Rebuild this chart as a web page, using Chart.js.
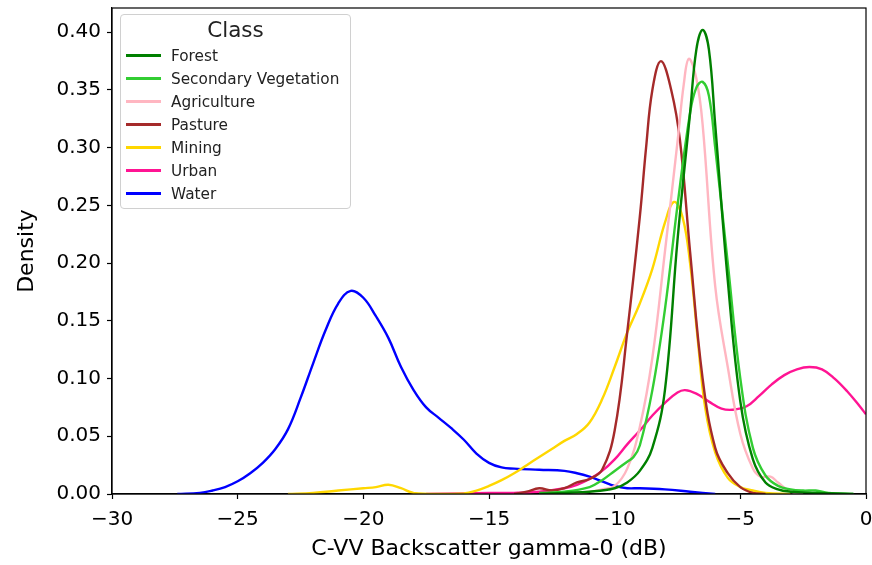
<!DOCTYPE html>
<html>
<head>
<meta charset="utf-8">
<script src="https://cdn.jsdelivr.net/npm/chart.js@4.4.0/dist/chart.umd.min.js"></script>
<style>
  html, body { margin: 0; padding: 0; background: #fff; }
  #wrap { position: relative; width: 872px; height: 565px; }
  #legend {
    position: absolute; left: 120px; top: 14px; width: 229px; height: 193px;
    border: 1px solid #d0d0d0; border-radius: 4px; background: rgba(255,255,255,0.85);
    font-family: "DejaVu Sans", sans-serif; color: #222;
  }
  #legend .title { position: absolute; left: 0; right: 0; top: 2px; text-align: center; font-size: 21.5px; }
  #legend .row { position: absolute; left: 5px; height: 20px; line-height: 20px; font-size: 15.3px; white-space: nowrap; }
  #legend .row span.sw { position: absolute; left: 0; top: 8px; width: 35px; height: 3px; }
  #legend .row span.lb { position: absolute; left: 45px; top: 0; }
</style>
</head>
<body>
<div id="wrap">
  <canvas id="c" width="872" height="565"></canvas>
  <div id="legend"></div>
</div>
<script>
const classes = ["Forest", "Secondary Vegetation", "Agriculture", "Pasture", "Mining", "Urban", "Water"];
const colors = ["#008000", "#32CD32", "#FFB6C1", "#A52A2A", "#FFD700", "#FF1493", "#0000FF"];

// x in dB, y = density
const forestX = [-13, -12, -11, -10, -9.5, -9, -8.5, -8, -7.5, -7, -6.75, -6.5, -6.25, -6, -5.5, -5, -4.5, -4, -3.5, -3, -2, -0.5];
const forestY = [0, 0.001, 0.002, 0.005, 0.01, 0.02, 0.04, 0.09, 0.22, 0.33, 0.385, 0.402, 0.385, 0.32, 0.185, 0.08, 0.03, 0.01, 0.004, 0.002, 0.001, 0];

const secVegX = [-13, -12, -11, -10.5, -10, -9.5, -9.25, -9, -8.5, -8, -7.5, -7, -6.75, -6.5, -6.25, -6, -5.5, -5, -4.5, -4, -3.5, -3, -2.5, -2, -1.5, -0.5];
const secVegY = [0.001, 0.002, 0.006, 0.012, 0.02, 0.028, 0.032, 0.042, 0.09, 0.16, 0.25, 0.33, 0.352, 0.357, 0.345, 0.3, 0.2, 0.1, 0.04, 0.016, 0.007, 0.004, 0.003, 0.003, 0.001, 0];

const agriX = [-12, -11, -10.5, -10, -9.5, -9, -8.5, -8, -7.5, -7.25, -7.05, -6.75, -6.5, -6, -5.5, -5, -4.5, -4.2, -3.8, -3.5, -3, -2.5];
const agriY = [0, 0.002, 0.004, 0.007, 0.022, 0.058, 0.118, 0.21, 0.305, 0.355, 0.377, 0.36, 0.32, 0.18, 0.11, 0.052, 0.022, 0.015, 0.015, 0.01, 0.002, 0];

const pastureX = [-14, -13.5, -13, -12.5, -12, -11.5, -11, -10.5, -10, -9.5, -9, -8.75, -8.5, -8.16, -7.75, -7.4, -7, -6.5, -6, -5.5, -5, -4.5, -4];
const pastureY = [0, 0.002, 0.005, 0.003, 0.005, 0.01, 0.013, 0.021, 0.055, 0.14, 0.24, 0.3, 0.35, 0.375, 0.35, 0.306, 0.21, 0.1, 0.04, 0.018, 0.006, 0.001, 0];

const miningX = [-23, -22, -21, -20, -19.5, -19, -18.5, -18, -17, -16, -15.5, -15, -14.5, -14, -13.5, -13, -12.5, -12, -11.5, -11, -10.5, -10, -9.5, -9, -8.5, -8, -7.64, -7.3, -7, -6.7, -6.4, -6, -5.5, -5, -4.5, -4, -3];
const miningY = [0, 0.001, 0.003, 0.005, 0.006, 0.008, 0.005, 0.001, 0, 0.0005, 0.003, 0.007, 0.012, 0.018, 0.025, 0.032, 0.039, 0.046, 0.052, 0.062, 0.082, 0.11, 0.14, 0.165, 0.195, 0.235, 0.253, 0.24, 0.2, 0.135, 0.075, 0.036, 0.014, 0.006, 0.003, 0.001, 0];

const urbanX = [-17.5, -16, -15, -14, -13, -12, -11.5, -11, -10.5, -10, -9.5, -9, -8.5, -8, -7.5, -7.2, -6.75, -6.25, -5.75, -5.3, -4.75, -4.25, -3.75, -3.25, -2.75, -2.25, -1.75, -1.25, -0.75, -0.25, 0];
const urbanY = [0, 0.0005, 0.001, 0.001, 0.002, 0.005, 0.008, 0.013, 0.02, 0.03, 0.043, 0.055, 0.068, 0.079, 0.088, 0.09, 0.087, 0.08, 0.074, 0.073, 0.076, 0.085, 0.095, 0.103, 0.108, 0.11, 0.108, 0.1, 0.089, 0.076, 0.069];

const waterX = [-27.4, -26.5, -26, -25.5, -25, -24.5, -24, -23.5, -23, -22.5, -22, -21.5, -21, -20.5, -20, -19.5, -19, -18.5, -18, -17.5, -17, -16.5, -16, -15.5, -15, -14.5, -14, -13, -12, -11.5, -11, -10.5, -10, -9.5, -9, -8, -7, -6];
const waterY = [0, 0.001, 0.003, 0.006, 0.011, 0.018, 0.027, 0.039, 0.056, 0.083, 0.113, 0.142, 0.165, 0.176, 0.17, 0.154, 0.135, 0.11, 0.09, 0.075, 0.066, 0.057, 0.047, 0.035, 0.027, 0.023, 0.022, 0.021, 0.02, 0.018, 0.015, 0.011, 0.007, 0.005, 0.005, 0.004, 0.002, 0];

const seriesX = [forestX, secVegX, agriX, pastureX, miningX, urbanX, waterX];
const seriesY = [forestY, secVegY, agriY, pastureY, miningY, urbanY, waterY];

const xTicks = [-30, -25, -20, -15, -10, -5, 0];
const yTicks = [0, 0.05, 0.1, 0.15, 0.2, 0.25, 0.3, 0.35, 0.4];

const FONT = "DejaVu Sans";

const datasets = classes.map((name, i) => ({
  label: name,
  data: seriesX[i].map((x, j) => ({ x: x, y: seriesY[i][j] })),
  borderColor: colors[i],
  backgroundColor: colors[i],
  borderWidth: 2.4,
  pointRadius: 0,
  fill: false,
  tension: 0.4,
}));

// full box around the plot, like matplotlib spines
const frame = {
  id: "frame",
  afterDraw(chart) {
    const { ctx, chartArea: a } = chart;
    ctx.save();
    ctx.strokeStyle = "#000";
    ctx.lineWidth = 1.2;
    ctx.strokeRect(a.left, a.top, a.right - a.left, a.bottom - a.top);
    ctx.restore();
  },
};

new Chart(document.getElementById("c"), {
  type: "line",
  data: { datasets: datasets },
  plugins: [frame],
  options: {
    responsive: false,
    animation: false,
    layout: { padding: { top: 8, right: 6, left: 0, bottom: 0 } },
    plugins: { legend: { display: false }, tooltip: { enabled: false } },
    scales: {
      x: {
        type: "linear",
        min: -30,
        max: 0,
        afterFit: (s) => {
          s.height = 71;
          s.paddingLeft = 0;
          s.paddingRight = 0;
        },
        afterBuildTicks: (s) => { s.ticks = xTicks.map((v) => ({ value: v })); },
        grid: { drawOnChartArea: false, color: "#000", tickLength: 5, tickWidth: 1.2 },
        border: { display: true, color: "#000", width: 1.2 },
        ticks: {
          color: "#000",
          padding: 9,
          maxRotation: 0,
          font: { family: FONT, size: 20 },
          callback: (v) => (v < 0 ? "\u2212" + Math.abs(v) : String(v)),
        },
        title: {
          display: true,
          text: "C-VV Backscatter gamma-0 (dB)",
          color: "#000",
          font: { family: FONT, size: 22 },
          padding: { top: 0, bottom: 3 },
        },
      },
      y: {
        type: "linear",
        min: 0,
        max: 0.421,
        afterFit: (s) => {
          s.width = 112;
          s.paddingTop = 0;
          s.paddingBottom = 0;
        },
        afterBuildTicks: (s) => { s.ticks = yTicks.map((v) => ({ value: v })); },
        grid: { drawOnChartArea: false, color: "#000", tickLength: 5, tickWidth: 1.2 },
        border: { display: true, color: "#000", width: 1.2 },
        ticks: {
          color: "#000",
          padding: 6,
          font: { family: FONT, size: 20 },
          callback: (v) => v.toFixed(2),
        },
        title: {
          display: true,
          text: "Density",
          color: "#000",
          font: { family: FONT, size: 22 },
          padding: { top: 14, bottom: 0 },
        },
      },
    },
  },
});

// legend box drawn as html text
const legend = document.getElementById("legend");
const title = document.createElement("div");
title.className = "title";
title.textContent = "Class";
legend.appendChild(title);
classes.forEach((name, i) => {
  const row = document.createElement("div");
  row.className = "row";
  row.style.top = (31 + i * 23) + "px";
  const sw = document.createElement("span");
  sw.className = "sw";
  sw.style.background = colors[i];
  const lb = document.createElement("span");
  lb.className = "lb";
  lb.textContent = name;
  row.appendChild(sw);
  row.appendChild(lb);
  legend.appendChild(row);
});
</script>
</body>
</html>
